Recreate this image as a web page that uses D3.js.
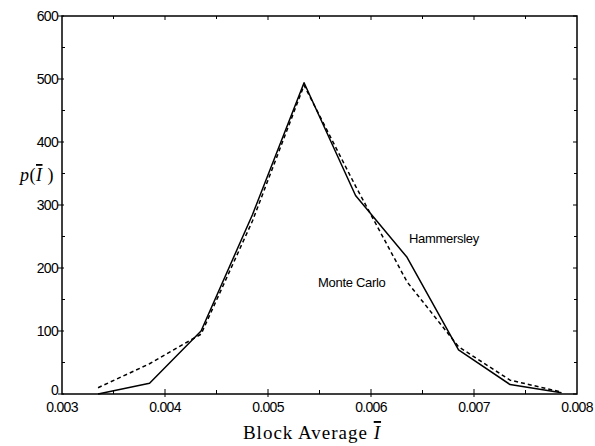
<!DOCTYPE html>
<html><head><meta charset="utf-8">
<script src="https://cdn.jsdelivr.net/npm/d3@7"></script>
<style>body{margin:0;background:#fff}svg{display:block}</style>
</head><body>
<svg id="c" width="595" height="446"></svg>
<script>
const xValues = [0.00335,0.00385,0.00435,0.00485,0.00535,0.00585,0.00635,0.00685,0.00735,0.00785];
const hammersley = [0,17,100,285,494,315,217,70,15,2];
const monteCarlo = [10,48,95,275,490,330,178,75,22,3];
const xTicks = [0.003,0.004,0.005,0.006,0.007,0.008];
const xTickLabels = ["0.003","0.004","0.005","0.006","0.007","0.008"];
const yTicks = [0,100,200,300,400,500,600];

const svg = d3.select("#c");
const L=62,R=577,T=16,B=394;
const x = d3.scaleLinear().domain([0.003,0.008]).range([L,R]);
const y = d3.scaleLinear().domain([0,600]).range([B,T]);

svg.append("rect").attr("x",L).attr("y",T).attr("width",R-L).attr("height",B-T)
  .attr("fill","none").attr("stroke","#000").attr("stroke-width",1.5);

const xMinor = d3.range(0.0035,0.008,0.001);
const yMinor = d3.range(50,600,100);
const g = svg.append("g").attr("stroke","#000").attr("stroke-width",1);
xTicks.slice(1,-1).forEach(v=>{
  g.append("line").attr("x1",x(v)).attr("x2",x(v)).attr("y1",B+3).attr("y2",B-5);
  g.append("line").attr("x1",x(v)).attr("x2",x(v)).attr("y1",T).attr("y2",T+4);
});
xMinor.forEach(v=>{
  g.append("line").attr("x1",x(v)).attr("x2",x(v)).attr("y1",B).attr("y2",B-4);
  g.append("line").attr("x1",x(v)).attr("x2",x(v)).attr("y1",T).attr("y2",T+3);
});
yTicks.forEach(v=>{
  g.append("line").attr("x1",L-4).attr("x2",L+2).attr("y1",y(v)).attr("y2",y(v));
  g.append("line").attr("x1",R).attr("x2",R-4).attr("y1",y(v)).attr("y2",y(v));
});
yMinor.forEach(v=>{
  g.append("line").attr("x1",L).attr("x2",L+3).attr("y1",y(v)).attr("y2",y(v));
  g.append("line").attr("x1",R).attr("x2",R-3).attr("y1",y(v)).attr("y2",y(v));
});

const tf = "Liberation Sans, Arial, sans-serif";
svg.append("g").selectAll("text").data(yTicks).join("text")
  .attr("x",L-4).attr("y",d=>d===0?y(d)-4:y(d)).attr("dy","0.36em").attr("text-anchor","end")
  .attr("font-family",tf).attr("font-size",14).attr("letter-spacing",-0.7).text(d=>d);
svg.append("g").selectAll("text").data(xTicks).join("text")
  .attr("x",d=>x(d)).attr("y",B+18).attr("text-anchor","middle")
  .attr("font-family",tf).attr("font-size",14).attr("letter-spacing",-0.7)
  .text((d,i)=>xTickLabels[i]);

const line = d3.line().x((d,i)=>x(xValues[i])).y(d=>y(d));
svg.append("path").datum(hammersley).attr("d",line).attr("fill","none")
  .attr("stroke","#000").attr("stroke-width",1.5).attr("stroke-linejoin","round");
svg.append("path").datum(monteCarlo).attr("d",line).attr("fill","none")
  .attr("stroke","#000").attr("stroke-width",1.5).attr("stroke-dasharray","4,3");

svg.append("text").attr("x",409).attr("y",243).attr("font-family",tf).attr("font-size",13)
  .attr("letter-spacing",-0.3).text("Hammersley");
svg.append("text").attr("x",318).attr("y",287).attr("font-family",tf).attr("font-size",13)
  .attr("letter-spacing",-0.3).text("Monte Carlo");

const sf = "Liberation Serif, Times New Roman, serif";
const xt = svg.append("text").attr("x",312).attr("y",439).attr("text-anchor","middle")
  .attr("font-family",sf).attr("font-size",19).attr("letter-spacing",1);
xt.append("tspan").text("Block Average ");
xt.append("tspan").attr("font-style","italic").style("text-decoration","overline").text("I");
const yt = svg.append("text").attr("x",20).attr("y",181)
  .attr("font-family",sf).attr("font-size",18).attr("letter-spacing",0.5);
yt.append("tspan").attr("font-style","italic").text("p");
yt.append("tspan").text("(");
yt.append("tspan").attr("font-style","italic").style("text-decoration","overline").text("I");
yt.append("tspan").text(" )");
</script>
</body></html>
